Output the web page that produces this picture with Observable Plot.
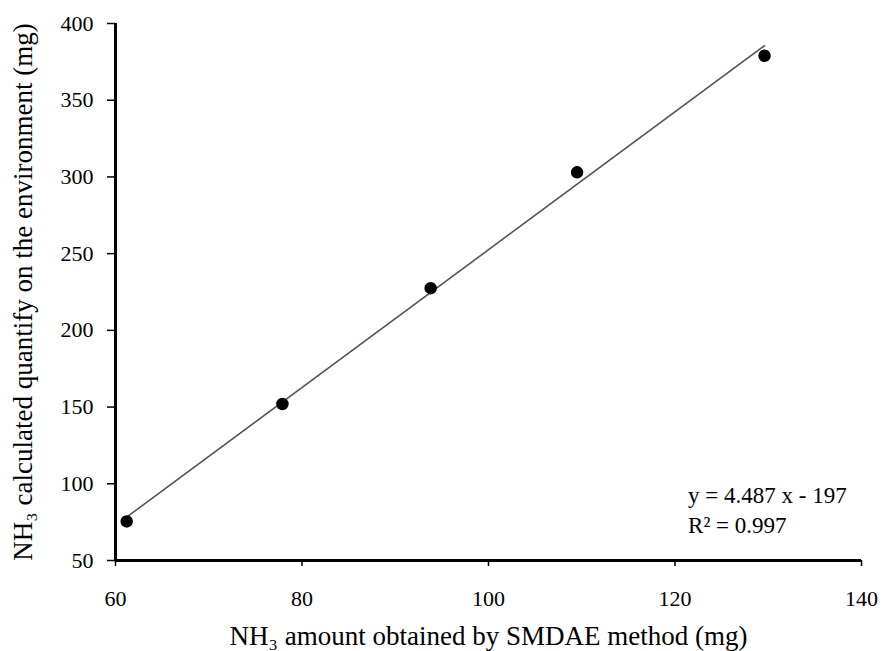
<!DOCTYPE html>
<html>
<head>
<meta charset="utf-8">
<script src="https://cdn.jsdelivr.net/npm/d3@7"></script>
<script src="https://cdn.jsdelivr.net/npm/@observablehq/plot@0.6"></script>
<style>
  html, body { margin: 0; padding: 0; background: #fff; }
  #chart svg { display: block; }
</style>
</head>
<body>
<div id="chart"></div>
<script>
// Data
const smdaeX = [61.2, 77.9, 93.8, 109.5, 129.6];      // NH3 amount obtained by SMDAE method (mg)
const calcY  = [75.5, 152, 227.5, 303, 379];          // NH3 calculated quantity on the environment (mg)
const xTicks = [60, 80, 100, 120, 140];
const yTicks = [50, 100, 150, 200, 250, 300, 350, 400];
const equationLines = ["y = 4.487 x - 197", "R² = 0.997"];
const xLabel = "NH₃ amount obtained by SMDAE method (mg)";
const yLabel = "NH₃ calculated quantify on the environment (mg)";

const points = smdaeX.map((x, i) => ({x, y: calcY[i]}));
const font = "'Liberation Serif', 'Times New Roman', serif";

const chart = Plot.plot({
  width: 887,
  height: 651,
  marginLeft: 115,
  marginRight: 26,
  marginTop: 23,
  marginBottom: 91,
  style: {fontFamily: font, background: "#fff", color: "#000"},
  x: {domain: [60, 140]},
  y: {domain: [50, 400]},
  marks: [
    Plot.axisY({ticks: yTicks, tickSize: 8, tickPadding: 14, fontSize: 22, label: null, strokeWidth: 1.5}),
    Plot.axisX({ticks: xTicks, tickSize: 6, tickPadding: 24, fontSize: 22, label: null, strokeWidth: 1.5}),
    Plot.ruleX([60], {stroke: "#000", strokeWidth: 3}),
    Plot.ruleY([50], {stroke: "#000", strokeWidth: 3}),
    Plot.linearRegressionY(points, {x: "x", y: "y", ci: 0, stroke: "#555", strokeWidth: 1.6}),
    Plot.dot(points, {x: "x", y: "y", r: 5.5, fill: "#000", stroke: "#000"}),
    Plot.text([equationLines.join("\n")], {
      x: 121.4, y: 68, text: d => d, textAnchor: "start", lineAnchor: "bottom",
      lineHeight: 1.28, fontSize: 23, fill: "#000"
    }),
    Plot.text([xLabel], {
      frameAnchor: "bottom", text: d => d, dy: 84, lineAnchor: "bottom", fontSize: 27, fill: "#000"
    }),
    Plot.text([yLabel], {
      frameAnchor: "left", text: d => d, dx: -84, rotate: -90, textAnchor: "middle",
      lineAnchor: "bottom", fontSize: 27, fill: "#000"
    })
  ]
});
document.getElementById("chart").append(chart);
</script>
</body>
</html>
